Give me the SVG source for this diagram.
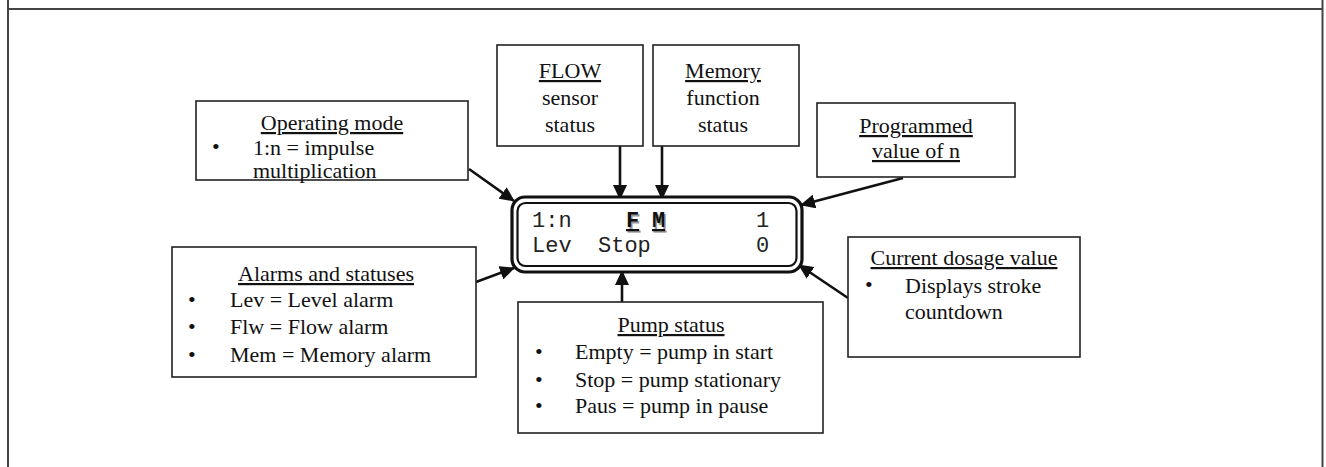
<svg xmlns="http://www.w3.org/2000/svg" width="1326" height="467" viewBox="0 0 1326 467">
  <style>
    .frame { stroke: #444; stroke-width: 2; fill: none; }
    .box { fill: #fff; stroke: #222; stroke-width: 1.6; }
    .t { font-family: "Liberation Serif", "Times New Roman", serif; font-size: 22px; fill: #111; }
    .c { text-anchor: middle; }
    .u { text-decoration: underline; }
    .lcd { font-family: "Liberation Mono", "Courier New", monospace; font-size: 22px; fill: #222; }
    .lcdb { font-family: "Liberation Mono", "Courier New", monospace; font-size: 22px; font-weight: bold; }
    .conn { stroke: #111; stroke-width: 2.6; fill: none; marker-end: url(#arrow); }
  </style>
  <defs>
    <marker id="arrow" markerUnits="userSpaceOnUse" markerWidth="16" markerHeight="14" refX="14" refY="7" orient="auto">
      <path d="M0,0 L15,7 L0,14 Z" fill="#111"/>
    </marker>
  </defs>

  <!-- page frame -->
  <g id="frame">
    <line class="frame" x1="8" y1="0" x2="8" y2="467"/>
    <line class="frame" x1="1322.5" y1="0" x2="1322.5" y2="467"/>
    <line class="frame" x1="8" y1="9" x2="1322.5" y2="9"/>
  </g>

  <!-- connectors -->
  <g id="connectors">
    <line class="conn" x1="469" y1="169" x2="514" y2="201"/>
    <line class="conn" x1="620" y1="146" x2="620" y2="199"/>
    <line class="conn" x1="662" y1="146" x2="662" y2="199"/>
    <line class="conn" x1="903" y1="178" x2="801" y2="205"/>
    <line class="conn" x1="476" y1="282" x2="514" y2="268"/>
    <line class="conn" x1="622" y1="302" x2="622" y2="271"/>
    <line class="conn" x1="848" y1="298" x2="799" y2="265"/>
  </g>

  <!-- LCD display -->
  <g id="display">
    <rect x="512" y="197" width="290" height="75" rx="13" fill="#fff" stroke="#111" stroke-width="3.2"/>
    <rect x="517.5" y="203" width="279" height="63" rx="8" fill="none" stroke="#111" stroke-width="2.2"/>
    <text class="lcd" x="532" y="227" xml:space="preserve">1:n</text>
    <text class="lcdb u" x="627.5" y="228.5" fill="#999">F</text>
    <text class="lcdb u" x="653.5" y="228.5" fill="#999">M</text>
    <text class="lcdb u" x="626" y="227" fill="#111">F</text>
    <text class="lcdb u" x="652" y="227" fill="#111">M</text>
    <text class="lcd" x="756" y="227">1</text>
    <text class="lcd" x="532" y="252">Lev</text>
    <text class="lcd" x="598" y="252">Stop</text>
    <text class="lcd" x="756" y="252">0</text>
  </g>

  <g id="operating-mode">
    <rect class="box" x="196" y="101" width="272" height="79"/>
    <text class="t c u" x="332" y="130">Operating mode</text>
    <text class="t" x="212" y="154">•</text>
    <text class="t" x="253" y="155">1:n = impulse</text>
    <text class="t" x="253" y="178">multiplication</text>
  </g>

  <g id="flow-status">
    <rect class="box" x="497" y="45" width="146" height="101"/>
    <text class="t c u" x="570" y="78">FLOW</text>
    <text class="t c" x="570" y="105">sensor</text>
    <text class="t c" x="570" y="132">status</text>
  </g>

  <g id="memory-status">
    <rect class="box" x="653" y="45" width="146" height="101"/>
    <text class="t c u" x="723" y="78">Memory</text>
    <text class="t c" x="723" y="105">function</text>
    <text class="t c" x="723" y="132">status</text>
  </g>

  <g id="programmed-value">
    <rect class="box" x="817" y="103" width="198" height="74"/>
    <text class="t c u" x="916" y="133">Programmed</text>
    <text class="t c u" x="916" y="158">value of n</text>
  </g>

  <g id="alarms">
    <rect class="box" x="172" y="247" width="304" height="130"/>
    <text class="t c u" x="326" y="281">Alarms and statuses</text>
    <text class="t" x="188" y="307">•</text>
    <text class="t" x="230" y="307">Lev = Level alarm</text>
    <text class="t" x="188" y="334">•</text>
    <text class="t" x="230" y="334">Flw = Flow alarm</text>
    <text class="t" x="188" y="362">•</text>
    <text class="t" x="230" y="362">Mem = Memory alarm</text>
  </g>

  <g id="pump-status">
    <rect class="box" x="518" y="302" width="305" height="131"/>
    <text class="t c u" x="671" y="332">Pump status</text>
    <text class="t" x="535" y="359">•</text>
    <text class="t" x="575" y="359">Empty = pump in start</text>
    <text class="t" x="535" y="387">•</text>
    <text class="t" x="575" y="387">Stop = pump stationary</text>
    <text class="t" x="535" y="413">•</text>
    <text class="t" x="575" y="413">Paus = pump in pause</text>
  </g>

  <g id="current-dosage">
    <rect class="box" x="848" y="237" width="232" height="120"/>
    <text class="t c u" x="964" y="265">Current dosage value</text>
    <text class="t" x="865" y="292">•</text>
    <text class="t" x="905" y="293">Displays stroke</text>
    <text class="t" x="905" y="319">countdown</text>
  </g>
</svg>
